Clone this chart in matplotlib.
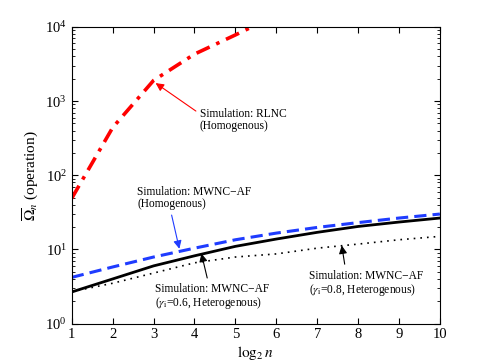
import matplotlib
matplotlib.use("Agg")
import matplotlib.pyplot as plt
from matplotlib.ticker import LogLocator, NullFormatter

plt.rcParams['font.family'] = ['Liberation Serif', 'DejaVu Serif']
plt.rcParams['mathtext.fontset'] = 'stix'

x = [1, 2, 3, 4, 5, 6, 7, 8, 9, 10]
rlnc = [49, 440, 1900, 4300, 7800, 14500, 22000, 32000, 45000, 60000]
mwnc_homo = [4.2, 5.8, 7.9, 10.4, 13.5, 16.6, 19.8, 23.0, 26.5, 30.0]
mwnc_g06 = [2.67, 4.0, 6.0, 8.2, 11.0, 13.8, 17.0, 20.4, 23.4, 26.5]
mwnc_g08 = [2.7, 3.5, 4.8, 6.6, 7.9, 8.7, 10.4, 11.8, 13.5, 15.0]
xticks = [1, 2, 3, 4, 5, 6, 7, 8, 9, 10]

fig = plt.figure(figsize=(4.85, 3.64), dpi=100)
ax = fig.add_axes([0.148, 0.111, 0.759, 0.815])

ax.plot(x, rlnc, color='red', lw=2.6, dashes=(4, 2, 1, 2))
ax.plot(x, mwnc_homo, color='#1f3cff', lw=2.2, dashes=(4, 2))
ax.plot(x, mwnc_g06, color='black', lw=2.0)
ax.plot(x, mwnc_g08, color='black', lw=1.2, dashes=(1, 3))

ax.set_yscale('log')
ax.set_xlim(1, 10)
ax.set_ylim(1, 1e4)
ax.set_xticks(xticks)
ax.yaxis.set_major_locator(LogLocator(base=10, numticks=10))
ax.yaxis.set_minor_locator(LogLocator(base=10, subs=range(2, 10), numticks=10))
ax.yaxis.set_minor_formatter(NullFormatter())
ax.tick_params(which='both', direction='in', top=True, right=True, labelsize=10.5)
ax.tick_params(which='major', length=4, width=0.8)
ax.tick_params(which='minor', length=2, width=0.6)
ax.tick_params(axis='x', which='minor', bottom=False, top=False)
for s in ax.spines.values():
    s.set_linewidth(0.8)

ax.set_xlabel(r'$\log_2 n$', fontsize=11, labelpad=2)
ax.set_ylabel(r'$\overline{\Omega}_n$ (operation)', fontsize=11, labelpad=3)

fs = 8.3
ax.annotate('Simulation: RLNC\n(Homogenous)', xy=(3.05, 1750), xytext=(4.13, 560),
            fontsize=fs, ha='left', va='center', linespacing=1.0,
            arrowprops=dict(arrowstyle='-|>', color='red', lw=0.8, mutation_scale=12,
                            shrinkA=1, shrinkB=0, relpos=(0, 0.75)))
ax.annotate('Simulation: MWNC\u2212AF\n(Homogenous)', xy=(3.63, 10.2), xytext=(2.6, 50),
            fontsize=fs, ha='left', va='center', linespacing=1.0,
            arrowprops=dict(arrowstyle='-|>', color='#1f3cff', lw=0.8, mutation_scale=12,
                            shrinkA=2, shrinkB=0, relpos=(0.29, 0.0)))
ax.annotate('Simulation: MWNC\u2212AF\n($\\gamma_{\\rm i}$=0.6, Heterogenous)', xy=(4.17, 8.8), xytext=(3.03, 2.25),
            fontsize=fs, ha='left', va='center', linespacing=1.0,
            arrowprops=dict(arrowstyle='-|>', color='black', lw=0.8, mutation_scale=12,
                            shrinkA=2, shrinkB=0, relpos=(0.47, 1.0)))
ax.annotate('Simulation: MWNC\u2212AF\n($\\gamma_{\\rm i}$=0.8, Heterogenous)', xy=(7.6, 11.3), xytext=(6.8, 3.45),
            fontsize=fs, ha='left', va='center', linespacing=1.0,
            arrowprops=dict(arrowstyle='-|>', color='black', lw=0.8, mutation_scale=12,
                            shrinkA=2, shrinkB=0, relpos=(0.32, 1.0)))

fig.savefig('out.png', dpi=100)
